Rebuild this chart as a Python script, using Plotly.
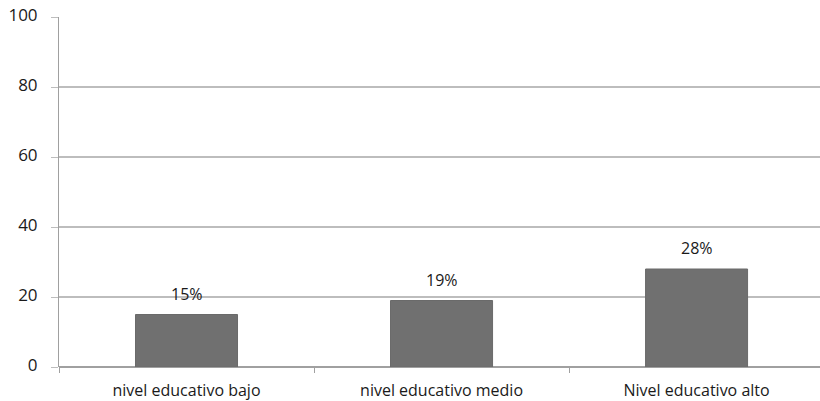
import plotly.graph_objects as go

categories = ["nivel educativo bajo", "nivel educativo medio", "Nivel educativo alto"]
values = [15, 19, 28]
y_ticks = [0, 20, 40, 60, 80, 100]

font_family = "Open Sans, Liberation Sans, sans-serif"
text_color = "#1a1a1a"

fig = go.Figure()
fig.add_trace(go.Bar(
    x=categories,
    y=values,
    width=0.4,
    marker=dict(color="#707070", line=dict(color="#6a6a6a", width=1)),
    hoverinfo="skip",
))

for c, v in zip(categories, values):
    fig.add_annotation(
        x=c, y=v, text=f"{v}%", showarrow=False,
        yanchor="bottom", yshift=8,
        font=dict(family=font_family, size=16, color=text_color),
    )

fig.update_layout(
    width=820, height=401,
    margin=dict(l=59, r=0, t=17, b=34, autoexpand=False),
    plot_bgcolor="white", paper_bgcolor="white",
    showlegend=False,
    font=dict(family=font_family, size=16, color=text_color),
)
fig.update_xaxes(
    range=[-0.5, 2.484],
    automargin=False,
    showgrid=False,
    showline=False,
    ticks="outside", ticklen=5, tickcolor="#a0a0a0",
    tickson="boundaries",
    ticklabelstandoff=12,
    ticklabeloverflow="allow",
    tickfont=dict(family=font_family, size=16, color=text_color),
    zeroline=False,
)
fig.update_yaxes(
    range=[0, 100],
    automargin=False,
    tickvals=y_ticks,
    showgrid=True, gridcolor="#bdbdbd", gridwidth=1.5,
    showline=True, linecolor="#a0a0a0", linewidth=1,
    ticks="outside", ticklen=7, tickcolor="#bdbdbd",
    ticklabelstandoff=10,
    ticklabelshift=-2,
    ticklabeloverflow="allow",
    tickfont=dict(family=font_family, size=17, color=text_color),
    zeroline=True, zerolinecolor="#a0a0a0", zerolinewidth=1.5,
)

fig.write_html(
    "out.html",
    config={"displayModeBar": False, "staticPlot": True},
    post_script="document.body.style.margin='0';document.body.style.overflow='hidden';",
)
